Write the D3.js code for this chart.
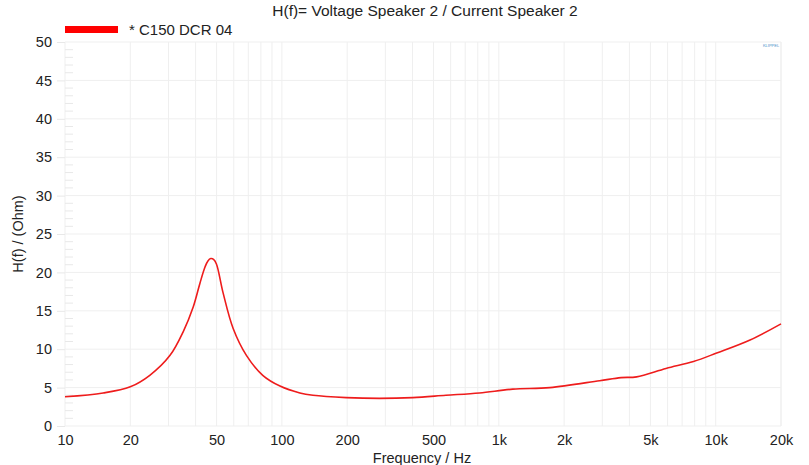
<!DOCTYPE html>
<html>
<head>
<meta charset="utf-8">
<script src="https://cdn.jsdelivr.net/npm/d3@7"></script>
<style>
  body { margin: 0; background: #fff; }
  text { font-family: "Liberation Sans", Arial, sans-serif; fill: #222; }
</style>
</head>
<body>
<div id="chart"></div>
<script>
// impedance curve
const freqs = [10, 15, 20, 24.6, 30.5, 35.1, 39, 41.9, 44.2, 45.6, 47, 48.4, 49.9, 53.6, 59.6, 68.6, 81.6, 98, 121, 139, 198, 282, 401, 570, 814, 1160, 1718, 2917, 3660, 4320, 5900, 7900, 10100, 14400, 20000];
const ohms = [3.8, 4.3, 5.1, 6.6, 9.2, 12.3, 15.5, 18.6, 20.7, 21.5, 21.8, 21.7, 21.1, 17.3, 12.7, 9.2, 6.6, 5.2, 4.3, 4.0, 3.7, 3.6, 3.7, 4.0, 4.3, 4.8, 5.0, 5.9, 6.3, 6.4, 7.5, 8.4, 9.5, 11.2, 13.3];
const xTickValues = [10, 20, 50, 100, 200, 500, 1000, 2000, 5000, 10000, 20000];
const xTickLabels = ['10', '20', '50', '100', '200', '500', '1k', '2k', '5k', '10k', '20k'];
const yTickValues = [0, 5, 10, 15, 20, 25, 30, 35, 40, 45, 50];
const seriesName = '* C150 DCR 04';

const W = 809, H = 465;
const margin = { top: 42, right: 28, bottom: 39, left: 65 };
const width = W - margin.left - margin.right;
const height = H - margin.top - margin.bottom;
const fontSize = '14.5px';

const svg = d3.select('#chart').append('svg')
  .attr('width', W)
  .attr('height', H);

const g = svg.append('g')
  .attr('transform', `translate(${margin.left},${margin.top})`);

const x = d3.scaleLog().domain([10, 20000]).range([0, width]);
const y = d3.scaleLinear().domain([0, 50]).range([height, 0]);

// vertical grid at every log minor step
const minor = [];
for (let dec = 10; dec <= 10000; dec *= 10) {
  for (let k = 1; k <= 9; k++) {
    const f = dec * k;
    if (f <= 20000) minor.push(f);
  }
}
minor.push(20000);
g.append('g').selectAll('line')
  .data(minor)
  .join('line')
  .attr('x1', d => x(d)).attr('x2', d => x(d))
  .attr('y1', 0).attr('y2', height)
  .attr('stroke', '#efefef')
  .attr('stroke-width', 1);

// horizontal grid
g.append('g').selectAll('line')
  .data(yTickValues)
  .join('line')
  .attr('x1', 0).attr('x2', width)
  .attr('y1', d => y(d)).attr('y2', d => y(d))
  .attr('stroke', '#efefef')
  .attr('stroke-width', 1);

// small inside minor ticks on the left
g.append('g').selectAll('line')
  .data(d3.range(0, 51).filter(v => v % 5 !== 0))
  .join('line')
  .attr('x1', 0).attr('x2', 8)
  .attr('y1', d => y(d)).attr('y2', d => y(d))
  .attr('stroke', '#e8e8e8');

// y axis
const yAxis = g.append('g')
  .call(d3.axisLeft(y).tickValues(yTickValues).tickSize(8).tickPadding(5));
yAxis.select('.domain').remove();
yAxis.selectAll('.tick line').attr('stroke', '#e8e8e8');
yAxis.selectAll('.tick text')
  .style('font-size', fontSize)
  .style('font-family', '"Liberation Sans", Arial, sans-serif')
  .attr('fill', '#222');

// x axis
const xAxis = g.append('g')
  .attr('transform', `translate(0,${height})`)
  .call(d3.axisBottom(x).tickValues(xTickValues)
    .tickFormat((d, i) => xTickLabels[i]).tickSize(0).tickPadding(9));
xAxis.select('.domain').remove();
xAxis.selectAll('.tick text')
  .style('font-size', fontSize)
  .style('font-family', '"Liberation Sans", Arial, sans-serif')
  .attr('fill', '#222');

// curve
const pts = freqs.map((f, i) => [f, ohms[i]]);
g.append('path')
  .datum(pts)
  .attr('fill', 'none')
  .attr('stroke', '#ee1c1c')
  .attr('stroke-width', 1.6)
  .attr('d', d3.line()
    .x(d => x(d[0]))
    .y(d => y(d[1]))
    .curve(d3.curveCatmullRom.alpha(0.5)));

// title
svg.append('text')
  .attr('x', 425).attr('y', 16)
  .attr('text-anchor', 'middle')
  .style('font-size', '15.5px')
  .text('H(f)= Voltage Speaker 2 / Current Speaker 2');

// legend
svg.append('rect')
  .attr('x', 65).attr('y', 26)
  .attr('width', 53).attr('height', 7)
  .attr('fill', '#ff0000');
svg.append('text')
  .attr('x', 129).attr('y', 35)
  .style('font-size', '15px')
  .text(seriesName);

// axis titles
svg.append('text')
  .attr('x', 422).attr('y', 463)
  .attr('text-anchor', 'middle')
  .style('font-size', fontSize)
  .text('Frequency / Hz');
svg.append('text')
  .attr('transform', `translate(23,${margin.top + height / 2}) rotate(-90)`)
  .attr('text-anchor', 'middle')
  .style('font-size', fontSize)
  .text('H(f) / (Ohm)');

// tiny logo mark
svg.append('text')
  .attr('x', 771).attr('y', 47)
  .attr('text-anchor', 'middle')
  .style('font-size', '4px')
  .style('fill', '#4a8fc8')
  .text('KLIPPEL');
</script>
</body>
</html>
